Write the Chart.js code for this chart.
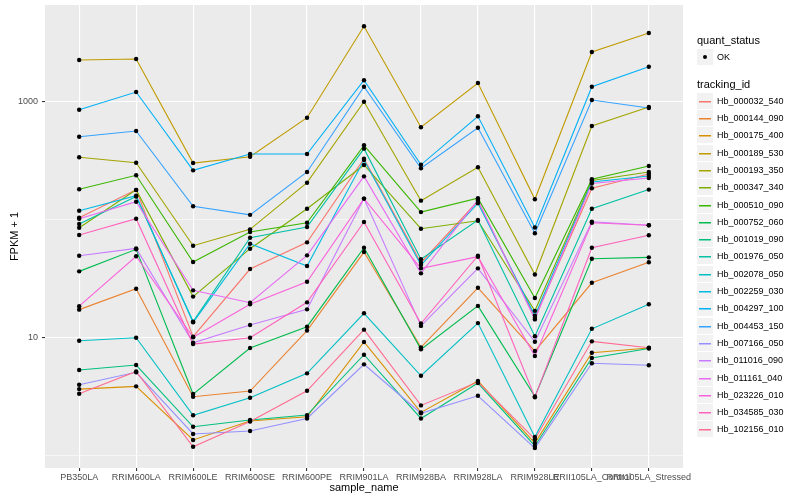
<!DOCTYPE html>
<html><head><meta charset="utf-8">
<script src="https://cdn.jsdelivr.net/npm/chart.js@4.4.0/dist/chart.umd.min.js"></script>
<style>
body{margin:0;background:#fff;}
#wrap{position:relative;width:800px;height:500px;font-family:"Liberation Sans",Arial,Helvetica,sans-serif;}
canvas{position:absolute;left:0;top:0;}
.lg{position:absolute;white-space:nowrap;color:#000;line-height:1;}
.key{position:absolute;background:#F2F2F2;}
</style></head><body>
<div id="wrap"><canvas id="c" width="800" height="500"></canvas><div id="legend"></div></div>
<script>
// ---- data (values are FPKM + 1) ----
const categories = ["PB350LA","RRIM600LA","RRIM600LE","RRIM600SE","RRIM600PE","RRIM901LA","RRIM928BA","RRIM928LA","RRIM928LE","RRII105LA_Control","RRII105LA_Stressed"];
const trackingIds = ["Hb_000032_540","Hb_000144_090","Hb_000175_400","Hb_000189_530","Hb_000193_350","Hb_000347_340","Hb_000510_090","Hb_000752_060","Hb_001019_090","Hb_001976_050","Hb_002078_050","Hb_002259_030","Hb_004297_100","Hb_004453_150","Hb_007166_050","Hb_011016_090","Hb_011161_040","Hb_023226_010","Hb_034585_030","Hb_102156_010"];
const yTickValues = [1, 10, 100, 1000];
const yTickLabels = ["", "10", "", "1000"];

const hb_000032_540 = [104, 179, 10.2, 38.2, 64.3, 329, 43.2, 144, 14.8, 185, 244];
const hb_000144_090 = [17.3, 26.0, 3.16, 3.53, 11.5, 53.2, 8.29, 26.5, 7.71, 29.2, 43.6];
const hb_000175_400 = [3.67, 3.87, 1.36, 1.97, 2.14, 9.20, 2.33, 4.30, 1.28, 7.46, 8.18];
const hb_000189_530 = [2256, 2301, 302, 342, 732, 4355, 607, 1441, 149, 2638, 3821];
const hb_000193_350 = [338, 304, 60.2, 82.9, 206, 1000, 145, 278, 34.3, 622, 902];
const hb_000347_340 = [85.5, 179, 22.3, 56.8, 124, 291, 83.9, 98, 16.9, 215, 254];
const hb_000510_090 = [181, 238, 43.8, 78.6, 94.3, 427, 116, 152, 21.7, 220, 285];
const hb_000752_060 = [36.5, 56.1, 3.33, 8.18, 12.4, 57.9, 7.97, 18.6, 3.18, 46.7, 48.0];
const hb_001019_090 = [5.32, 5.87, 1.76, 2.01, 2.21, 7.18, 2.07, 4.13, 1.21, 6.73, 8.10];
const hb_001976_050 = [91.9, 157, 13.7, 70.4, 86.7, 400, 46.2, 99.4, 10.3, 124, 180];
const hb_002078_050 = [9.43, 10.0, 2.20, 3.10, 4.99, 16.1, 4.76, 13.3, 1.44, 11.9, 19.2];
const hb_002259_030 = [119, 160, 13.5, 62.6, 40.5, 320, 41.3, 138, 15.4, 209, 235];
const hb_004297_100 = [855, 1208, 262, 360, 360, 1519, 292, 752, 85.9, 1340, 1980];
const hb_004453_150 = [505, 565, 130, 110, 254, 1340, 273, 602, 76.7, 1034, 884];
const hb_007166_050 = [4.00, 5.09, 1.53, 1.62, 2.07, 5.95, 2.29, 3.22, 1.16, 6.07, 5.84];
const hb_011016_090 = [49.5, 57.2, 9.07, 12.8, 17.4, 151, 12.6, 38.7, 9.25, 96.2, 89.7];
const hb_011161_040 = [102, 142, 25.2, 19.8, 49.9, 233, 35.1, 147, 14.3, 203, 226];
const hb_023226_010 = [18.5, 49.0, 10.1, 19.2, 29.8, 151, 38.7, 48.6, 7.0, 94.3, 89.7];
const hb_034585_030 = [74.2, 102, 8.84, 10.0, 19.95, 95.6, 13.2, 49.5, 3.13, 57.9, 73.8];
const hb_102156_010 = [3.35, 5.17, 1.19, 1.95, 3.55, 11.7, 2.67, 4.21, 1.38, 9.32, 8.23];

const seriesValues = [hb_000032_540, hb_000144_090, hb_000175_400, hb_000189_530, hb_000193_350, hb_000347_340, hb_000510_090, hb_000752_060, hb_001019_090, hb_001976_050, hb_002078_050, hb_002259_030, hb_004297_100, hb_004453_150, hb_007166_050, hb_011016_090, hb_011161_040, hb_023226_010, hb_034585_030, hb_102156_010];

// ---- styles ----
const seriesColors = ["#F8766D","#EA8331","#D89000","#C09B00","#A3A500","#7CAE00","#39B600","#00BB4E","#00BF7D","#00C1A3","#00BFC4","#00BAE0","#00B0F6","#35A2FF","#9590FF","#C77CFF","#E76BF3","#FA62DB","#FF62BC","#FF6C91"];

const FONT = '"Liberation Sans", Arial, Helvetica, sans-serif';

const toPoints = vals => vals.map((v, i) => ({x: i, y: v}));

const datasets = [];
seriesValues.forEach((vals, i) => {
  datasets.push({
    type: 'line', label: trackingIds[i], data: toPoints(vals),
    borderColor: seriesColors[i], backgroundColor: seriesColors[i],
    borderWidth: 1.1, pointRadius: 0, tension: 0, fill: false,
    order: 100 - i
  });
});
seriesValues.forEach((vals, i) => {
  datasets.push({
    type: 'line', label: trackingIds[i] + ' pts', data: toPoints(vals),
    showLine: false, pointRadius: 2.2, pointBackgroundColor: '#000',
    pointBorderWidth: 0, pointBorderColor: '#000', order: 0
  });
});

const panelBg = {
  id: 'panelBg',
  beforeDraw(chart) {
    const {ctx, chartArea: a} = chart;
    ctx.save();
    ctx.fillStyle = '#EBEBEB';
    ctx.fillRect(a.left, a.top, a.right - a.left, a.bottom - a.top);
    ctx.restore();
  }
};

new Chart(document.getElementById('c'), {
  type: 'line',
  data: { datasets },
  options: {
    responsive: false, animation: false,
    layout: { padding: { left: 0, right: 117, top: 5, bottom: 0 } },
    plugins: { legend: { display: false }, tooltip: { enabled: false } },
    scales: {
      x: {
        type: 'linear', min: -0.6, max: 10.6,
        afterBuildTicks: s => { s.ticks = categories.map((c, i) => ({value: i})); },
        afterFit: s => { s.height = 32; s.paddingLeft = 0; s.paddingRight = 0; },
        ticks: {
          autoSkip: false, maxRotation: 0, minRotation: 0, padding: 1,
          color: '#4D4D4D', font: { family: FONT, size: 9 },
          callback: v => categories[v]
        },
        grid: { color: '#FFFFFF', lineWidth: 1.1, tickColor: '#333333', tickLength: 3, drawTicks: true },
        border: { display: false },
        title: { display: true, text: 'sample_name', color: '#000', font: { family: FONT, size: 11 }, padding: { top: 0, bottom: 5 } }
      },
      y: {
        type: 'logarithmic', min: 0.787, max: 6600,
        afterBuildTicks: s => { s.ticks = yTickValues.map(v => ({value: v})); },
        afterFit: s => { s.width = 45; s.paddingTop = 0; s.paddingBottom = 0; },
        ticks: {
          padding: 4, color: '#4D4D4D', font: { family: FONT, size: 9 },
          callback: (v) => { const k = yTickValues.indexOf(v); return k >= 0 ? yTickLabels[k] : ''; }
        },
        grid: {
          color: '#FFFFFF',
          lineWidth: c => (c.tick && yTickLabels[yTickValues.indexOf(c.tick.value)] ? 1.1 : 0.55),
          tickColor: c => (c.tick && yTickLabels[yTickValues.indexOf(c.tick.value)] ? '#333333' : 'rgba(0,0,0,0)'),
          tickLength: 3, drawTicks: true
        },
        border: { display: false },
        title: { display: true, text: 'FPKM + 1', color: '#000', font: { family: FONT, size: 11 }, padding: { top: 8, bottom: 0 } }
      }
    }
  },
  plugins: [panelBg]
});

// ---- HTML legend (ggplot style) ----
const lg = document.getElementById('legend');
function add(html, style) { const d = document.createElement('div'); d.className = 'lg'; d.innerHTML = html; Object.assign(d.style, style); lg.appendChild(d); return d; }
function addKey(top) { const k = document.createElement('div'); k.className = 'key'; Object.assign(k.style, {left: '697px', top: top + 'px', width: '16px', height: '16px'}); lg.appendChild(k); return k; }
add('quant_status', {left: '697px', top: '35px', fontSize: '11px'});
const okKey = addKey(49);
const dot = document.createElement('div');
Object.assign(dot.style, {position: 'absolute', left: '6px', top: '6px', width: '4px', height: '4px', borderRadius: '50%', background: '#000'});
okKey.appendChild(dot);
add('OK', {left: '717px', top: '53px', fontSize: '9px'});
add('tracking_id', {left: '697px', top: '79px', fontSize: '11px'});
trackingIds.forEach((id, i) => {
  const cy = Math.round(100.7 + 17.3 * i);
  const k = addKey(cy - 8);
  const seg = document.createElement('div');
  Object.assign(seg.style, {position: 'absolute', left: '2px', width: '12px', top: '8px', height: '1px', background: seriesColors[i], boxShadow: '0 0.5px 0 ' + seriesColors[i]});
  k.appendChild(seg);
  add(id, {left: '717px', top: (cy - 4) + 'px', fontSize: '9px'});
});
</script>
</body></html>
